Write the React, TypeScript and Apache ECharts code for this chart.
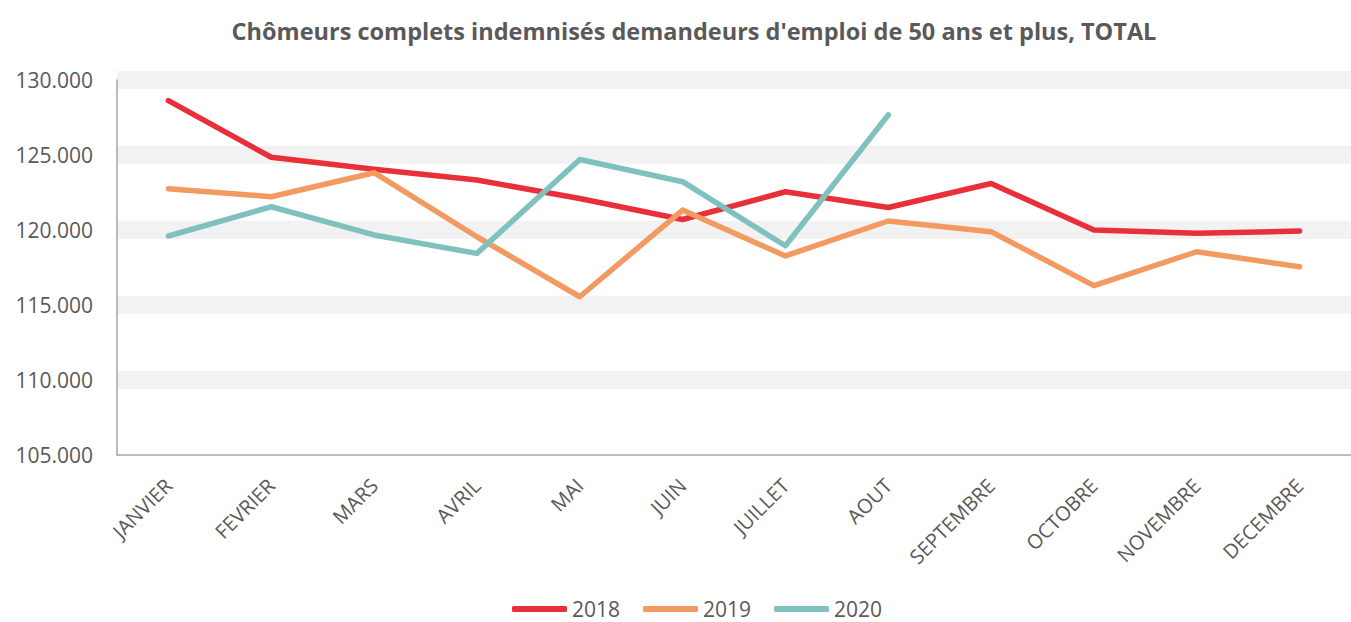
import React, { useEffect, useRef } from "react";
import * as echarts from "echarts";

const months = ["JANVIER", "FEVRIER", "MARS", "AVRIL", "MAI", "JUIN", "JUILLET", "AOUT", "SEPTEMBRE", "OCTOBRE", "NOVEMBRE", "DECEMBRE"];
const s2018 = [128620, 124850, 124050, 123330, 122100, 120700, 122550, 121500, 123100, 120000, 119780, 119930];
const s2019 = [122750, 122220, 123820, 119550, 115550, 121330, 118270, 120600, 119890, 116290, 118550, 117550];
const s2020 = [119600, 121550, 119670, 118440, 124700, 123220, 118950, 127670];
const seriesNames = ["2018", "2019", "2020"];
const colors = ["#E9303A", "#F29A61", "#7FC1BF"];
const title = "Chômeurs complets indemnisés demandeurs d'emploi de 50 ans et plus, TOTAL";

const FONT = "'Open Sans', sans-serif";
const GREY = "#595959";

function fmt(v: number): string {
  return (v / 1000).toFixed(3);
}

export default function App() {
  const ref = useRef<HTMLDivElement>(null);
  useEffect(() => {
    if (!ref.current) return;
    const chart = echarts.init(ref.current, null, { renderer: "svg" });
    const data = [s2018, s2019, s2020];
    chart.setOption({
      animation: false,
      backgroundColor: "#ffffff",
      color: colors,
      graphic: [
        {
          type: "text",
          x: 694,
          y: 31,
          style: {
            text: title,
            fill: GREY,
            font: `bold 23.5px ${FONT}`,
            textAlign: "center",
            textVerticalAlign: "middle",
          },
        },
      ],
      legend: {
        data: seriesNames.map((n) => ({ name: n, icon: "roundRect" })),
        left: 512,
        top: 597,
        padding: 0,
        itemWidth: 55,
        itemHeight: 6,
        itemGap: 23,
        textStyle: { color: GREY, fontSize: 21, fontFamily: FONT, lineHeight: 24 },
      },
      grid: { left: 117, top: 80, width: 1244.4, height: 375, containLabel: false },
      xAxis: {
        type: "category",
        data: months,
        boundaryGap: true,
        axisLine: { show: true, lineStyle: { color: "#A6A6A6", width: 1.5 } },
        axisTick: { show: false },
        axisLabel: {
          rotate: 45,
          interval: 0,
          margin: 27,
          color: GREY,
          fontSize: 20,
          fontFamily: FONT,
        },
        splitLine: { show: false },
      },
      yAxis: {
        type: "value",
        min: 105000,
        max: 130000,
        interval: 5000,
        axisLine: { show: true, lineStyle: { color: "#A6A6A6", width: 1.5 } },
        axisTick: { show: false },
        axisLabel: {
          margin: 24,
          color: GREY,
          fontSize: 21,
          fontFamily: FONT,
          formatter: fmt,
        },
        splitLine: {
          show: true,
          showMinLine: false,
          lineStyle: { color: "#F2F2F2", width: 18 },
        },
      },
      series: data.map((d, i) => ({
        name: seriesNames[i],
        type: "line",
        data: d,
        symbol: "none",
        showSymbol: false,
        lineStyle: { width: 5.5, color: colors[i], cap: "round", join: "round" },
        itemStyle: { color: colors[i] },
      })),
    });
    return () => chart.dispose();
  }, []);
  return (
    <div
      ref={ref}
      style={{ position: "fixed", left: 0, top: 0, width: 1351, height: 622, background: "#fff" }}
    />
  );
}
